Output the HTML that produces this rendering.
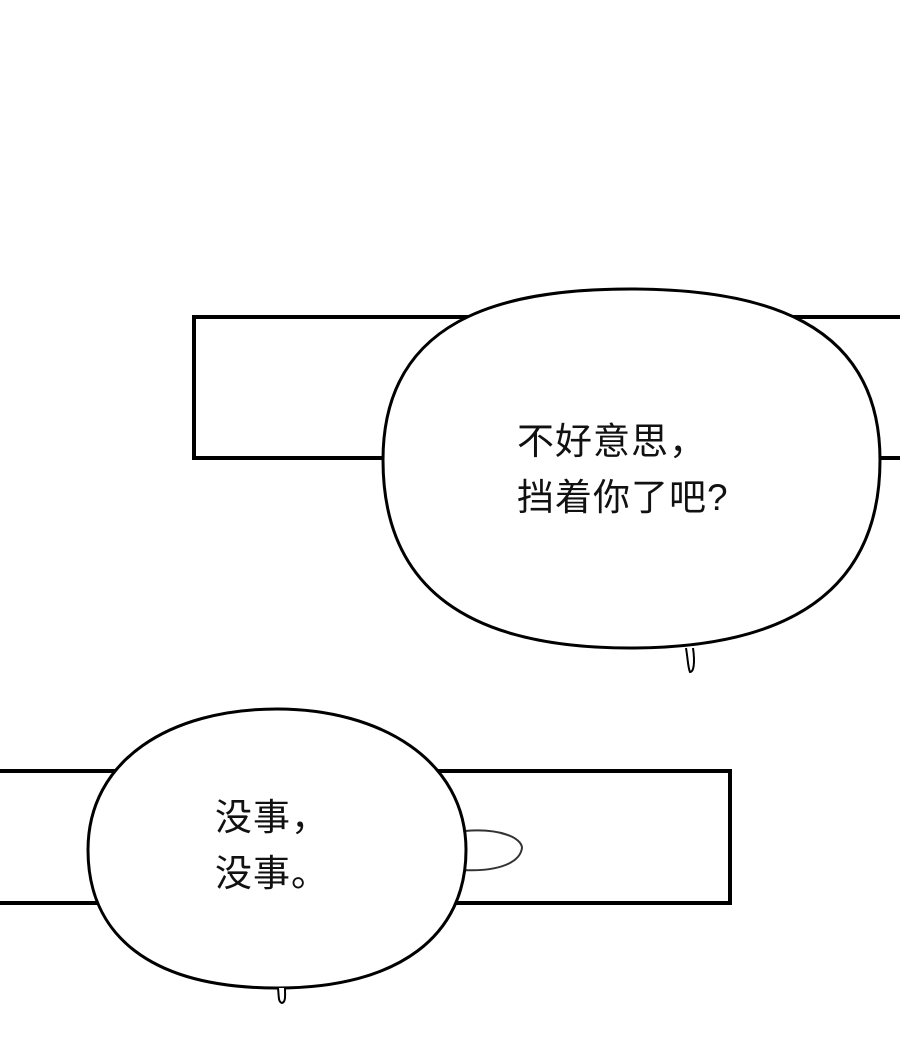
<!DOCTYPE html>
<html><head><meta charset="utf-8"><style>
body{margin:0;width:900px;height:1043px;background:#fff;overflow:hidden;position:relative}
svg{position:absolute;left:0;top:0}
.t{position:absolute;font-family:"Liberation Sans","Noto Sans CJK SC",sans-serif;font-size:37px;color:#111;line-height:56px;letter-spacing:1px}
</style></head><body>
<svg width="900" height="1043">
<rect x="194" y="317" width="720" height="141" fill="#fff" stroke="#000" stroke-width="4"/>
<rect x="-10" y="771" width="740" height="132" fill="#fff" stroke="#000" stroke-width="4"/>
<path d="M465,831 C500,828 522,838 522,848 C520,862 500,872 462,870" fill="#fff" stroke="#333" stroke-width="2"/>
<path d="M630,289 C760,289 880,320 880,460 C880,590 790,648 630,648 C470,648 383,590 383,460 C383,320 500,289 630,289 Z" fill="#fff" stroke="#000" stroke-width="3"/>
<path d="M686,648 C688,660 688,668 690,672 C694,672 695,662 693,648" fill="#fff" stroke="#000" stroke-width="2"/>
<path d="M277,709 C380,709 466,760 466,850 C466,935 400,988 277,988 C150,988 88,935 88,850 C88,760 170,709 277,709 Z" fill="#fff" stroke="#000" stroke-width="3"/>
<path d="M278,988 C279,996 278,1002 282,1003 C286,1002 285,995 285,988" fill="#fff" stroke="#000" stroke-width="2"/>
</svg>
<div class="t" style="left:517px;top:414px">不好意思，<br>挡着你了吧?</div>
<div class="t" style="left:215px;top:790px">没事，<br>没事。</div>
</body></html>
